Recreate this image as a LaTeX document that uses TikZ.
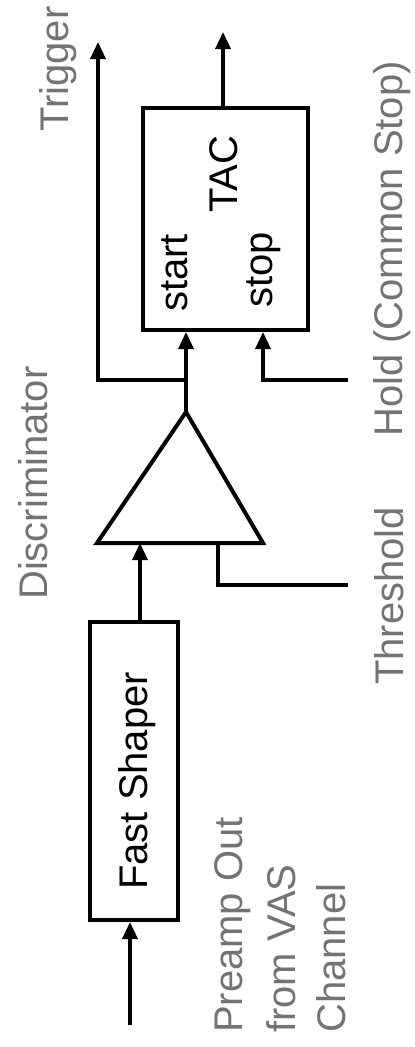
\documentclass[tikz,border=0pt]{standalone}
\usepackage{fontspec}
\setmainfont{Liberation Sans}
\usetikzlibrary{arrows.meta}
\begin{document}
\begin{tikzpicture}[x=1pt,y=-1pt,
  box/.style={draw,line width=4pt,inner sep=0pt},
  wire/.style={line width=3.5pt},
  arr/.style={wire,-{Triangle[width=15pt,length=17pt]}},
  txt/.style={rotate=90,inner sep=0pt,anchor=base west,font=\fontsize{40}{48}\selectfont},
  lbl/.style={txt,text=black!55}]
\useasboundingbox (0,0) rectangle (415,1047);
% boxes
\node[box,minimum width=88pt,minimum height=298pt] (shaper) at (134,771) {};
\node[box,minimum width=165pt,minimum height=222pt] (tac) at (225.5,219) {};
% discriminator triangle
\coordinate (tl) at (97,543);
\coordinate (tr) at (263,543);
\coordinate (apex) at (186,412);
\draw[line width=4pt,line join=miter] (tl) -- (tr) -- (apex) -- cycle;
\coordinate (tin) at (140,543);
\coordinate (tth) at (218,543);
% free ends
\coordinate (in) at (130,1025);
\coordinate (thr) at (348,585);
\coordinate (junc) at (186,380);
\coordinate (trig) at (98,42);
\coordinate (tacout) at (223,32);
\coordinate (hold) at (348,380);
\coordinate (stopx) at (263,380);
% connectors
\draw[arr] (in) -- (in |- shaper.south);
\draw[arr] (shaper.north -| tin) -- (tin);
\draw[wire] (tth) |- (thr);
\draw[wire] (apex) -- (junc);
\draw[arr] (junc) -- (junc |- tac.south);
\draw[arr] (junc) -| (trig);
\draw[arr] (tac.north -| tacout) -- (tacout);
\draw[arr] (hold) -- (stopx) -- (stopx |- tac.south);
% texts
\node[txt] (shapertxt) at (147,890) {Fast Shaper};
\node[txt] (tactxt) at (237,213) {TAC};
\node[txt] (starttxt) at (187,312) {start};
\node[txt] (stoptxt) at (272,308) {stop};
\node[lbl] (trigtxt) at (68,132) {Trigger};
\node[lbl] (disctxt) at (47,600) {Discriminator};
\node[lbl] (holdtxt) at (402,437) {Hold (Common Stop)};
\node[lbl] (thrtxt) at (403,685) {Threshold};
\node[lbl] (pre1) at (242,1033) {Preamp Out};
\node[lbl] (pre2) at (295,1033) {from VAS};
\node[lbl] (pre3) at (345,1033) {Channel};
\end{tikzpicture}
\end{document}
